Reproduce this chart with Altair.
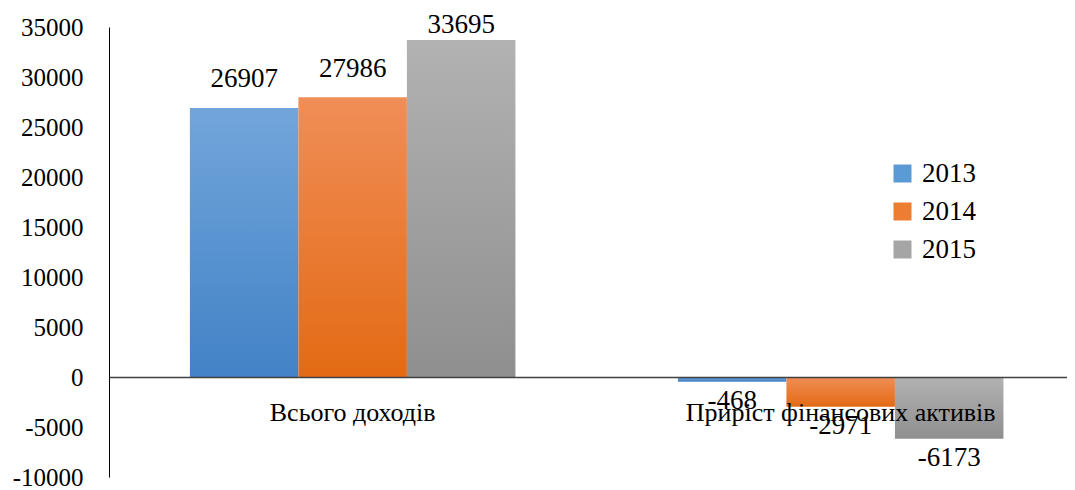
import altair as alt
import pandas as pd

categories = ["Всього доходів", "Приріст фінансових активів"]
years = ["2013", "2014", "2015"]
values_2013 = [26907, -468]
values_2014 = [27986, -2971]
values_2015 = [33695, -6173]
y_ticks = [-10000, -5000, 0, 5000, 10000, 15000, 20000, 25000, 30000, 35000]

solid = ["#5B9BD5", "#ED7D31", "#A5A5A5"]
grad_top = ["#72A6DB", "#F08E57", "#B2B2B2"]
grad_bot = ["#4282C6", "#E36A14", "#8F8F8F"]

rows = []
for yr, vals in zip(years, [values_2013, values_2014, values_2015]):
    for c, v in zip(categories, vals):
        rows.append({"category": c, "year": yr, "value": v, "label": str(v)})
df = pd.DataFrame(rows)

SERIF = "Liberation Serif"


def grad(i):
    return {
        "gradient": "linear",
        "x1": 0, "y1": 0, "x2": 0, "y2": 1,
        "stops": [
            {"offset": 0, "color": grad_top[i]},
            {"offset": 1, "color": grad_bot[i]},
        ],
    }


x_enc = alt.X(
    "category:N",
    sort=categories,
    scale=alt.Scale(paddingInner=0.333, paddingOuter=0.148, align=0.56),
    axis=alt.Axis(
        title=None, orient="bottom", offset=-100, labelAngle=0, ticks=False,
        domainColor="#404040", domainWidth=1.5, labelFont=SERIF,
        labelFontSize=26, labelColor="black", labelPadding=22, zindex=1,
        labelLimit=0, labelOverlap=False,
    ),
)
xoff_enc = alt.XOffset("year:N", sort=years,
                       scale=alt.Scale(paddingInner=0, paddingOuter=0))
y_scale = alt.Scale(domain=[-10000, 35000], nice=False, zero=False)

bars = alt.Chart(df).mark_bar().encode(
    x=x_enc,
    xOffset=xoff_enc,
    y=alt.Y(
        "value:Q", scale=y_scale,
        axis=alt.Axis(
            title=None, values=y_ticks, grid=False, ticks=False,
            domainColor="black", domainWidth=1, labelFont=SERIF,
            labelFontSize=25, labelColor="black", labelPadding=26,
            labelExpr="'' + datum.value", labelOverlap=False,
        ),
    ),
    fill=alt.Fill(
        "year:N",
        scale=alt.Scale(domain=years, range=solid),
        legend=alt.Legend(
            title=None, orient="none", legendX=780, legendY=133,
            symbolType="square", symbolSize=324, symbolStrokeWidth=0,
            symbolOpacity=1, labelFont=SERIF, labelFontSize=27,
            labelColor="black", labelOffset=6, rowPadding=10, padding=0,
        ),
        condition=[
            {"test": f"datum.year == '{yr}'", "value": grad(i)}
            for i, yr in enumerate(years)
        ],
    ),
)

labels = alt.Chart(df).transform_calculate(
    pos="datum.value >= 0 ? min(datum.value + 2850, 35200) : datum.value - 1950"
).mark_text(font=SERIF, fontSize=27, color="black", baseline="middle").encode(
    x=alt.X("category:N", sort=categories),
    xOffset=alt.XOffset("year:N", sort=years),
    y=alt.Y("pos:Q", scale=y_scale),
    text="label:N",
)

chart = (
    alt.layer(bars, labels)
    .properties(
        width=958, height=450,
        autosize=alt.AutoSizeParams(type="none"),
        padding={"left": 101, "top": 19, "right": 0, "bottom": 13},
        background="white",
    )
    .configure_view(stroke=None)
)

chart.save("out.html", embed_options={"renderer": "svg", "actions": False})
